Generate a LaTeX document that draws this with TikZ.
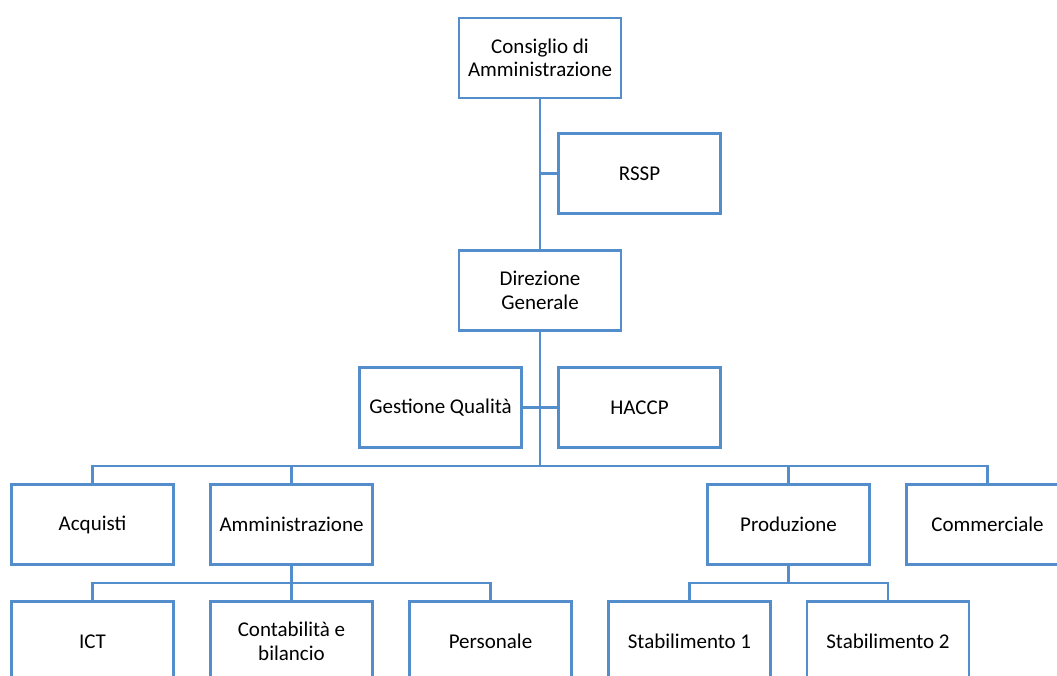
\documentclass[tikz,border=0pt]{standalone}
\usepackage{fontspec}
\setmainfont{Carlito}
\usepackage{tikz}
\usetikzlibrary{positioning}
\definecolor{colorline}{RGB}{84,141,204}
\tikzstyle{unit}=[rectangle, draw=colorline, line width=2.6pt, fill=white, minimum width=162pt, minimum height=80pt, inner sep=2pt, align=center, font=\fontsize{21}{23.5}\selectfont]
\tikzstyle{link}=[draw=colorline, line width=2.6pt]

\begin{document}
\begin{tikzpicture}[x=1pt, y=-1pt]
	\fill[white] (0,0) rectangle (1057,675);
	\clip (0,0) rectangle (1057,675);

	% top levels
	\node[unit] at (540, 58) (cda) {Consiglio di\\Amministrazione};
	\node[unit] at (639.5, 173.5) (rssp) {RSSP};
	\node[unit] at (540, 290.5) (dg) {Direzione\\Generale};
	\node[unit] at (440.5, 407.5) (gq) {Gestione Qualità};
	\node[unit] at (639.5, 407.5) (haccp) {HACCP};

	% departments
	\node[unit] at (92.5, 524.5) (acq) {Acquisti};
	\node[unit] at (291.5, 524.5) (amm) {Amministrazione};
	\node[unit] at (788.5, 524.5) (prod) {Produzione};
	\node[unit] at (987.5, 524.5) (comm) {Commerciale};

	% offices
	\node[unit] at (92.5, 641.5) (ict) {ICT};
	\node[unit] at (291.5, 641.5) (cont) {Contabilità e\\bilancio};
	\node[unit] at (490.5, 641.5) (pers) {Personale};
	\node[unit] at (689.5, 641.5) (stab1) {Stabilimento 1};
	\node[unit] at (888, 641.5) (stab2) {Stabilimento 2};

	\coordinate (bus) at (540, 466);
	\coordinate (ammbus) at (291.5, 583);
	\coordinate (prodbus) at (788.5, 583);

	\path[link] (cda.south) -- (dg.north);
	\path[link] (rssp.west) -- (cda.south |- rssp.west);
	\path[link] (gq.east) -- (haccp.west);
	\path[link] (dg.south) -- (bus);
	\path[link] (acq.north) |- (bus) -| (comm.north);
	\path[link] (amm.north) -- (amm.north |- bus);
	\path[link] (prod.north) -- (prod.north |- bus);
	\path[link] (ict.north) |- (ammbus) -| (pers.north);
	\path[link] (amm.south) -- (cont.north);
	\path[link] (stab1.north) |- (prodbus) -| (stab2.north);
	\path[link] (prod.south) -- (prodbus);

\end{tikzpicture}
\end{document}
